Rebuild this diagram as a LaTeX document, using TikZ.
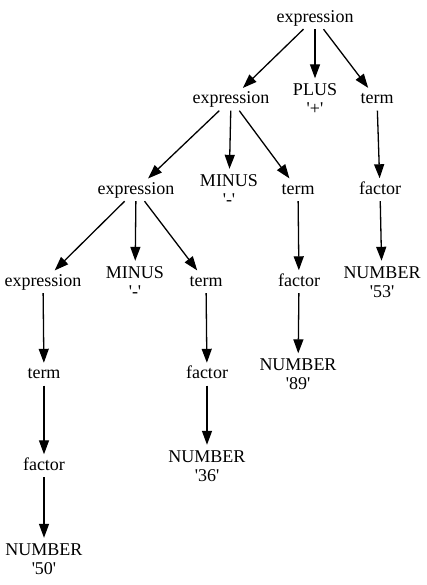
\documentclass[tikz,border=0pt]{standalone}
\usepackage{fontspec}
\setmainfont{Liberation Serif}
\usetikzlibrary{arrows.meta}
\newcommand{\sq}{\textquotesingle}
\begin{document}
\begin{tikzpicture}[x=1pt,y=1pt,
  lblbase/.style={font=\fontsize{18}{19}\selectfont, inner xsep=2pt},
  lbl/.style={lblbase, inner ysep=2.5pt, text height=13pt, text depth=4pt},
  lbltwo/.style={lblbase, align=center, inner ysep=5pt},
  edge/.style={line width=1.3pt, -{Triangle[length=14pt,width=10pt]}, shorten >=0.5pt}]
\useasboundingbox (0,0) rectangle (427,585);
% ranks
\def\ra{567}\def\rb{485.5}\def\rc{395}\def\rd{303}\def\re{210.5}\def\rf{119}\def\rg{26}
\node[lbl] (e1) at (315,\ra) {expression};
\node[lbl] (e2) at (231,\rb) {expression};
\node[lbltwo] (plus) at (315,\rb) {PLUS\\\sq+\sq};
\node[lbl] (t1) at (377,\rb) {term};
\node[lbl] (e3) at (136,\rc) {expression};
\node[lbltwo] (m1) at (229,\rc) {MINUS\\\sq-\sq};
\node[lbl] (t2) at (298,\rc) {term};
\node[lbl] (f1) at (380,\rc) {factor};
\node[lbl] (e4) at (43,\rd) {expression};
\node[lbltwo] (m2) at (135,\rd) {MINUS\\\sq-\sq};
\node[lbl] (t3) at (206,\rd) {term};
\node[lbl] (f2) at (299,\rd) {factor};
\node[lbltwo] (n53) at (382,\rd) {NUMBER\\\sq53\sq};
\node[lbl] (t4) at (44,\re) {term};
\node[lbl] (f3) at (207,\re) {factor};
\node[lbltwo] (n89) at (298,\re) {NUMBER\\\sq89\sq};
\node[lbl] (f4) at (44,\rf) {factor};
\node[lbltwo] (n36) at (207,\rf) {NUMBER\\\sq36\sq};
\node[lbltwo] (n50) at (44,\rg) {NUMBER\\\sq50\sq};
\draw[edge] (e1) -- (e2);
\draw[edge] (e1) -- (plus);
\draw[edge] (e1) -- (t1);
\draw[edge] (e2) -- (e3);
\draw[edge] (e2) -- (m1);
\draw[edge] (e2) -- (t2);
\draw[edge] (t1) -- (f1);
\draw[edge] (e3) -- (e4);
\draw[edge] (e3) -- (m2);
\draw[edge] (e3) -- (t3);
\draw[edge] (t2) -- (f2);
\draw[edge] (f1) -- (n53);
\draw[edge] (e4) -- (t4);
\draw[edge] (t3) -- (f3);
\draw[edge] (f2) -- (n89);
\draw[edge] (t4) -- (f4);
\draw[edge] (f3) -- (n36);
\draw[edge] (f4) -- (n50);
\end{tikzpicture}
\end{document}
